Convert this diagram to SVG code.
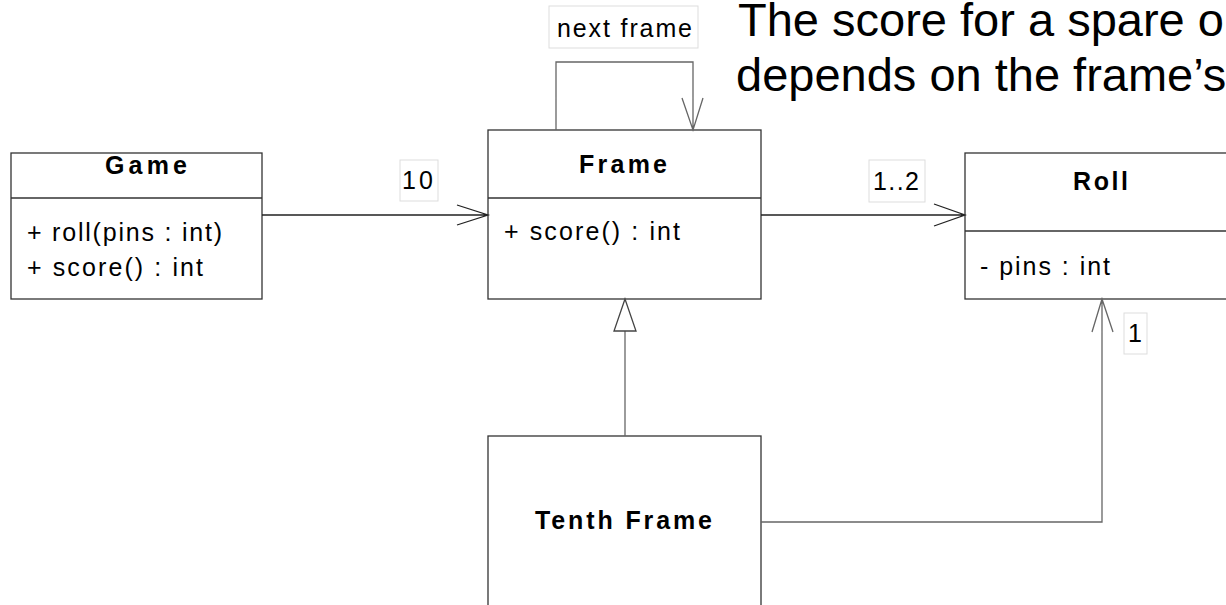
<svg xmlns="http://www.w3.org/2000/svg" width="1226" height="605" viewBox="0 0 1226 605">
<style>
.box{fill:#fff;stroke:#333;stroke-width:1.3}
.div{stroke:#333;stroke-width:1.3}
.name{font-family:"Liberation Sans",Arial,sans-serif;font-weight:bold;font-size:25px;fill:#000}
.op{font-family:"Liberation Sans",Arial,sans-serif;font-size:25px;fill:#000}
.lbl{fill:#fff;stroke:#ddd;stroke-width:1}
.lt{font-family:"Liberation Sans",Arial,sans-serif;font-size:25px;fill:#000}
.note{font-family:"Liberation Sans",Arial,sans-serif;font-size:47px;fill:#000}
.c1{fill:none;stroke:#222;stroke-width:1.3}
.c2{fill:none;stroke:#666;stroke-width:1.3}
</style>
<rect width="1226" height="605" fill="#fff"/>
<g id="note">
<text class="note" x="738" y="36">The score for a spare o</text>
<text class="note" x="736" y="91">depends on the frame’s</text>
</g>
<g id="game">
<rect class="box" x="11" y="153" width="251" height="146"/>
<line class="div" x1="11" y1="198" x2="262" y2="198"/>
<text class="name" x="105" y="174" textLength="82">Game</text>
<text class="op" x="27" y="241" textLength="195">+ roll(pins : int)</text>
<text class="op" x="27" y="276" textLength="176">+ score() : int</text>
</g>
<g id="frame">
<rect class="box" x="488" y="130" width="273" height="169"/>
<line class="div" x1="488" y1="198" x2="761" y2="198"/>
<text class="name" x="579" y="173" textLength="88">Frame</text>
<text class="op" x="504" y="240" textLength="176">+ score() : int</text>
</g>
<g id="roll">
<rect class="box" x="965" y="153" width="280" height="146"/>
<line class="div" x1="965" y1="231" x2="1245" y2="231"/>
<text class="name" x="1073" y="190" textLength="55">Roll</text>
<text class="op" x="980" y="275" textLength="130">- pins : int</text>
</g>
<g id="tenthframe">
<rect class="box" x="488" y="436" width="273" height="190"/>
<text class="name" x="535" y="529" textLength="177">Tenth Frame</text>
</g>
<g id="connectors">
<path class="c1" d="M262 215 H488 M457 205 L488 215 L457 225"/>
<path class="c1" d="M761 215 H965 M934 204 L965 215 L934 226"/>
<path class="c2" d="M556 130 V62 H693 V130 M682 98 L693 130 L703 98"/>
<path class="c2" d="M625 436 V331"/>
<polygon points="625,299 614,331 636,331" fill="#fff" stroke="#444" stroke-width="1.3"/>
<path class="c2" d="M761 522 H1102 V299 M1092 332 L1102 299 L1113 332"/>
</g>
<g id="labels">
<rect class="lbl" x="549" y="6" width="149" height="42"/>
<text class="lt" x="557" y="37" font-size="22" textLength="135">next frame</text>
<rect class="lbl" x="400" y="160" width="38" height="41"/>
<text class="lt" x="402" y="189" textLength="31">10</text>
<rect class="lbl" x="869" y="160" width="56" height="42"/>
<text class="lt" x="873" y="190" textLength="46">1..2</text>
<rect class="lbl" x="1124" y="313" width="23" height="41"/>
<text class="lt" x="1128" y="342">1</text>
</g>
</svg>
